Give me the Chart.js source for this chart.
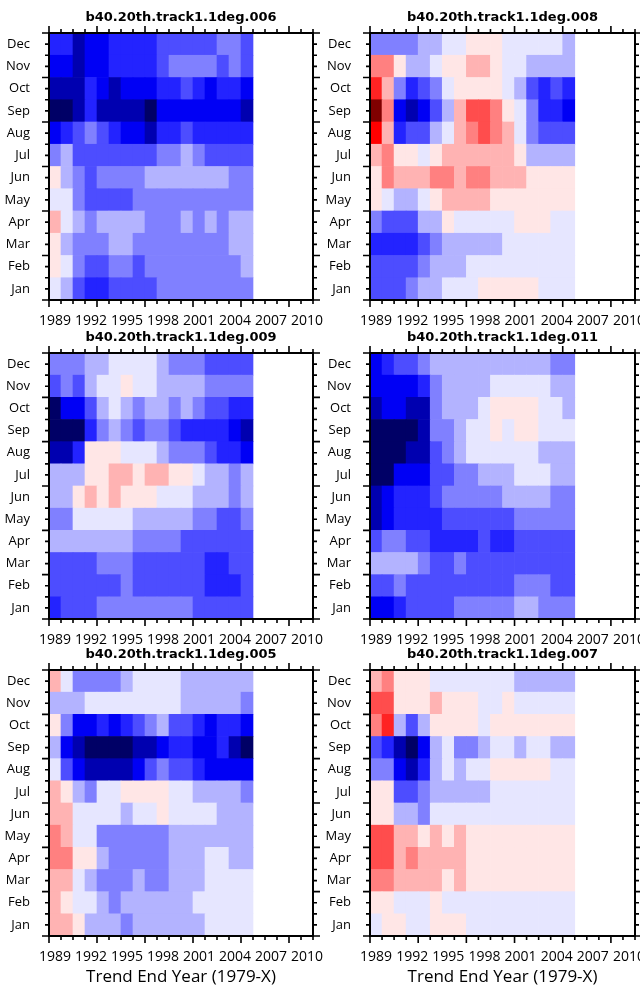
<!DOCTYPE html>
<html>
<head>
<meta charset="utf-8">
<script src="https://cdn.jsdelivr.net/npm/chart.js@4.4.1/dist/chart.umd.min.js"></script>
<style>
  html, body { margin: 0; padding: 0; background: #fff; overflow: hidden; }
  #wrap { position: relative; width: 640px; height: 985px; }
  #wrap canvas { position: absolute; }
</style>
</head>
<body>
<div id="wrap"></div>
<script>
// trend end years on the x axis (data runs 1989-2005)
const years = ['1989','1990','1991','1992','1993','1994','1995','1996','1997','1998','1999',
               '2000','2001','2002','2003','2004','2005','2006','2007','2008','2009','2010'];
const months = ['Jan','Feb','Mar','Apr','May','Jun','Jul','Aug','Sep','Oct','Nov','Dec'];

// trend level per month (rows Jan..Dec), per end year 1989..2005
// negative = blue, positive = red
const run006 = [
  [-1,-2,-4,-5,-5,-4,-4,-4,-4,-3,-3,-3,-3,-3,-3,-3,-3],
  [1,-1,-3,-4,-4,-3,-3,-4,-3,-3,-3,-3,-3,-3,-3,-3,-2],
  [1,-2,-3,-3,-3,-2,-2,-3,-3,-3,-3,-3,-3,-3,-3,-2,-2],
  [2,-1,-2,-3,-2,-2,-2,-2,-3,-3,-3,-2,-3,-2,-3,-2,-2],
  [-1,-1,-3,-4,-4,-4,-4,-3,-3,-3,-3,-3,-3,-3,-3,-3,-3],
  [1,-2,-3,-4,-3,-3,-3,-3,-2,-2,-2,-2,-2,-2,-2,-3,-3],
  [-3,-2,-4,-4,-4,-4,-4,-4,-4,-3,-3,-2,-3,-4,-4,-4,-4],
  [-6,-5,-4,-3,-4,-5,-6,-6,-7,-5,-5,-4,-5,-5,-5,-5,-5],
  [-8,-8,-7,-5,-7,-7,-7,-7,-8,-6,-6,-6,-6,-6,-6,-6,-7],
  [-7,-7,-7,-5,-6,-7,-6,-6,-6,-5,-5,-4,-5,-6,-5,-5,-6],
  [-6,-6,-7,-6,-6,-5,-5,-5,-5,-4,-3,-3,-3,-3,-4,-3,-4],
  [-5,-5,-7,-6,-6,-5,-5,-5,-5,-4,-4,-4,-4,-4,-3,-3,-4]
];
const run008 = [
  [-4,-4,-4,-3,-2,-2,-1,-1,-1,1,1,1,1,1,-1,-1,-1],
  [-4,-4,-4,-4,-3,-2,-2,-2,-1,-1,-1,-1,-1,-1,-1,-1,-1],
  [-5,-5,-5,-5,-4,-3,-2,-2,-2,-2,-2,-1,-1,-1,-1,-1,-1],
  [-3,-4,-4,-4,-2,-2,1,-1,-1,-1,-1,-1,1,1,1,-1,-1],
  [1,-1,-2,-2,-1,1,2,2,2,2,1,1,1,1,1,1,1],
  [1,3,2,2,2,3,3,2,3,3,2,2,2,1,1,1,1],
  [2,3,1,1,-1,1,2,2,2,2,2,2,1,-2,-2,-2,-2],
  [6,2,-5,-4,-4,-2,-1,2,3,4,3,2,-1,-3,-4,-4,-4],
  [7,3,-6,-7,-6,-4,-2,2,4,4,3,1,-1,-3,-5,-5,-6],
  [5,2,-3,-5,-4,-3,-1,1,1,1,1,-1,-2,-4,-5,-4,-5],
  [3,3,1,-2,-2,-1,1,1,2,2,1,-1,-1,-2,-2,-2,-2],
  [-3,-3,-3,-3,-2,-2,-1,-1,1,1,1,-1,-1,-1,-1,-1,-2]
];
const run009 = [
  [-5,-4,-4,-4,-3,-3,-3,-3,-3,-3,-3,-3,-4,-4,-4,-4,-4],
  [-4,-4,-4,-4,-4,-4,-3,-4,-4,-4,-4,-4,-4,-5,-5,-5,-4],
  [-4,-4,-4,-4,-3,-3,-3,-4,-4,-4,-4,-4,-4,-5,-5,-4,-4],
  [-2,-2,-2,-2,-2,-2,-2,-3,-3,-3,-3,-4,-4,-4,-4,-4,-4],
  [-3,-3,-1,-1,-1,-1,-1,-2,-2,-2,-2,-2,-3,-3,-4,-4,-3],
  [-2,-2,1,2,1,2,1,1,1,-1,-1,-1,-2,-2,-2,-3,-2],
  [-2,-2,-2,1,1,2,2,1,2,2,1,1,-1,-2,-2,-3,-2],
  [-7,-7,-5,1,1,1,-1,-1,-1,-2,-3,-3,-3,-4,-5,-5,-6],
  [-8,-8,-8,-5,-3,-2,-3,-4,-3,-3,-4,-5,-5,-5,-5,-6,-7],
  [-8,-6,-6,-4,-2,-1,-2,-3,-2,-2,-3,-2,-3,-4,-4,-5,-5],
  [-4,-3,-4,-2,-1,-1,1,-1,-1,-2,-2,-2,-2,-3,-3,-3,-3],
  [-3,-3,-3,-2,-2,-1,-1,-1,-1,-2,-3,-3,-3,-4,-4,-4,-4]
];
const run011 = [
  [-6,-6,-5,-4,-4,-4,-4,-3,-3,-3,-3,-3,-2,-2,-3,-3,-3],
  [-4,-4,-3,-4,-4,-4,-4,-4,-4,-4,-4,-4,-3,-3,-3,-4,-4],
  [-2,-2,-2,-2,-3,-4,-4,-3,-4,-4,-4,-4,-4,-4,-4,-4,-4],
  [-4,-3,-3,-4,-4,-5,-5,-5,-5,-4,-5,-5,-4,-4,-4,-4,-4],
  [-7,-6,-5,-5,-5,-5,-4,-4,-4,-4,-4,-4,-3,-3,-3,-3,-3],
  [-7,-6,-5,-5,-5,-4,-3,-3,-3,-3,-3,-2,-2,-2,-2,-3,-3],
  [-8,-8,-6,-6,-6,-4,-4,-3,-3,-2,-2,-2,-1,-1,-1,-2,-2],
  [-8,-8,-8,-7,-7,-4,-3,-2,-1,-1,-1,-1,-1,-1,-2,-2,-2],
  [-8,-8,-8,-8,-7,-3,-3,-2,-1,-1,1,-1,1,1,-1,-1,-1],
  [-7,-6,-6,-7,-7,-3,-2,-2,-2,-1,1,1,1,1,-1,-1,-2],
  [-6,-6,-6,-6,-5,-3,-2,-2,-2,-2,-1,-1,-1,-1,-1,-2,-2],
  [-6,-5,-4,-4,-3,-2,-2,-2,-2,-2,-2,-2,-2,-2,-2,-3,-3]
];
const run005 = [
  [2,2,1,-2,-2,-2,-3,-2,-2,-2,-2,-2,-2,-1,-1,-1,-1],
  [2,1,-1,-1,-2,-3,-2,-2,-2,-2,-2,-2,-1,-1,-1,-1,-1],
  [2,2,-1,-2,-3,-3,-3,-2,-3,-3,-2,-2,-2,-1,-1,-1,-1],
  [3,3,1,1,-2,-3,-3,-3,-3,-3,-2,-2,-2,-1,-1,-2,-2],
  [3,2,-1,-1,-3,-3,-3,-3,-3,-3,-2,-2,-2,-2,-2,-2,-2],
  [2,2,-1,-1,-1,-1,-2,-1,-1,1,-1,-1,-1,-1,-2,-2,-2],
  [2,1,-2,-3,-1,-1,1,1,1,1,-1,-1,-2,-2,-2,-2,-3],
  [-1,-4,-6,-7,-7,-7,-7,-6,-4,-3,-4,-4,-5,-6,-6,-6,-6],
  [-2,-6,-7,-8,-8,-8,-8,-7,-7,-6,-5,-5,-6,-6,-5,-7,-8],
  [1,-3,-6,-6,-5,-6,-5,-4,-3,-2,-4,-4,-5,-6,-5,-5,-6],
  [-2,-2,-2,-1,-1,-1,-1,-1,-1,-1,-1,-2,-2,-2,-2,-2,-3],
  [2,-1,-3,-3,-3,-3,-2,-1,-1,-1,-1,-2,-2,-2,-2,-2,-2]
];
const run007 = [
  [-1,1,1,-1,-1,1,1,1,-1,-1,-1,-1,-1,-1,-1,-1,-1],
  [1,1,-1,-1,-1,1,-1,-1,-1,-1,-1,-1,-1,-1,-1,-1,-1],
  [3,3,2,2,2,2,1,2,1,1,1,1,1,1,1,1,1],
  [4,4,2,3,2,2,2,2,1,1,1,1,1,1,1,1,1],
  [4,4,2,2,1,2,1,2,1,1,1,1,1,1,1,1,1],
  [1,1,-2,-2,-3,-1,-1,-1,-1,-1,-1,-1,-1,-1,-1,-1,-1],
  [1,1,-4,-4,-3,-2,-2,-2,-2,-2,-1,-1,-1,-1,-1,-1,-1],
  [-3,-3,-6,-7,-5,-2,-1,-2,-1,-1,1,1,1,1,1,-1,-1],
  [-4,-5,-7,-8,-6,-2,-1,-3,-3,-2,-1,-1,-2,-1,-1,-2,-2],
  [3,5,-2,-4,-2,1,1,1,1,-1,1,1,1,1,1,1,1],
  [4,4,1,1,1,2,1,1,1,-1,-1,1,-1,-1,-1,-1,-1],
  [2,3,1,1,1,-1,-1,-1,-1,-1,-1,-1,-2,-2,-2,-2,-2]
];

const titles = ['b40.20th.track1.1deg.006', 'b40.20th.track1.1deg.008',
                'b40.20th.track1.1deg.009', 'b40.20th.track1.1deg.011',
                'b40.20th.track1.1deg.005', 'b40.20th.track1.1deg.007'];
const grids = [run006, run008, run009, run011, run005, run007];

const palette = {
  '-8': '#000066', '-7': '#0000b0', '-6': '#0000f5', '-5': '#2323ff',
  '-4': '#4d4dff', '-3': '#8080ff', '-2': '#b3b3ff', '-1': '#e6e6ff',
  '1': '#ffe6e6', '2': '#ffb3b3', '3': '#ff8080', '4': '#ff4d4d',
  '5': '#ff2323', '6': '#ff0000', '7': '#800000'
};

// canvas boxes: left, top, width, height, y-axis width, right pad, x-axis height
const boxes = [
  { l: 0,   t: 5,   w: 330, h: 325, yw: 49, pr: 17, xh: 30 },
  { l: 320, t: 5,   w: 320, h: 325, yw: 50, pr: 5,  xh: 30 },
  { l: 0,   t: 325, w: 330, h: 324, yw: 49, pr: 17, xh: 30 },
  { l: 320, t: 325, w: 320, h: 324, yw: 50, pr: 5,  xh: 30 },
  { l: 0,   t: 642, w: 330, h: 344, yw: 49, pr: 17, xh: 50 },
  { l: 320, t: 642, w: 320, h: 344, yw: 50, pr: 5,  xh: 50 }
];

const frameTicks = {
  id: 'frameTicks',
  afterDraw(chart) {
    const ctx = chart.ctx;
    const { left, right, top, bottom } = chart.chartArea;
    const xs = chart.scales.x, ys = chart.scales.y;
    ctx.save();
    ctx.strokeStyle = '#000';
    ctx.lineWidth = 1.6;
    ctx.beginPath();
    for (let i = 0; i <= years.length; i++) {
      const px = xs.getPixelForDecimal(i / years.length);
      const len = i % 4 === 0 ? 7 : 4;
      ctx.moveTo(px, bottom); ctx.lineTo(px, bottom + len);
      ctx.moveTo(px, top); ctx.lineTo(px, top - len);
    }
    for (let k = 0; k <= months.length * 2; k++) {
      const py = ys.getPixelForValue(k / 2);
      const len = k % 4 === 0 ? 7 : 4;
      ctx.moveTo(left, py); ctx.lineTo(left - len, py);
      ctx.moveTo(right, py); ctx.lineTo(right + len, py);
    }
    ctx.stroke();
    ctx.lineWidth = 2;
    ctx.strokeRect(left, top, right - left, bottom - top);
    ctx.restore();
  }
};

const wrap = document.getElementById('wrap');

grids.forEach((grid, p) => {
  const b = boxes[p];
  const cv = document.createElement('canvas');
  cv.width = b.w; cv.height = b.h;
  cv.style.left = b.l + 'px'; cv.style.top = b.t + 'px';
  cv.style.width = b.w + 'px'; cv.style.height = b.h + 'px';
  wrap.appendChild(cv);

  const datasets = months.map((m, i) => ({
    label: m,
    data: grid[i].map(v => (v === null ? null : [i, i + 1])),
    backgroundColor: grid[i].map(v => palette[String(v)]),
    borderWidth: 0,
    barPercentage: 1,
    categoryPercentage: 1,
    grouped: false
  }));

  const bottomRow = p >= 4;

  new Chart(cv, {
    type: 'bar',
    data: { labels: years, datasets },
    options: {
      responsive: false,
      animation: false,
      layout: { padding: { left: 0, right: b.pr, top: 0, bottom: 0 } },
      plugins: {
        legend: { display: false },
        tooltip: { enabled: false },
        title: {
          display: true,
          text: titles[p],
          fullSize: false,
          color: '#000',
          font: { family: 'DejaVu Sans', size: 13, weight: 'bold', lineHeight: 1.2 },
          padding: { top: 4.7, bottom: 7.7 }
        }
      },
      scales: {
        x: {
          type: 'category',
          offset: true,
          grid: { display: false },
          border: { display: false },
          ticks: {
            autoSkip: false,
            maxRotation: 0,
            padding: 4.6,
            color: '#000',
            font: { family: 'Open Sans', size: 14 },
            callback: (v, i) => (i % 3 === 0 ? years[i] : '')
          },
          title: {
            display: bottomRow,
            text: 'Trend End Year (1979-X)',
            color: '#000',
            font: { family: 'Open Sans', size: 17, lineHeight: 1 },
            padding: { top: 0, bottom: 0 }
          },
          afterFit(scale) {
            scale.height = b.xh;
            scale.paddingLeft = 0;
            scale.paddingRight = 0;
          }
        },
        y: {
          type: 'linear',
          min: 0,
          max: 12,
          grid: { display: false },
          border: { display: false },
          afterBuildTicks(scale) {
            scale.ticks = months.map((m, i) => ({ value: i + 0.5 }));
          },
          ticks: {
            autoSkip: false,
            padding: 11,
            color: '#000',
            font: { family: 'Open Sans', size: 13 },
            callback: v => months[Math.floor(v)]
          },
          afterFit(scale) {
            scale.width = b.yw;
            scale.paddingTop = 0;
            scale.paddingBottom = 0;
          }
        }
      }
    },
    plugins: [frameTicks]
  });
});
</script>
</body>
</html>
